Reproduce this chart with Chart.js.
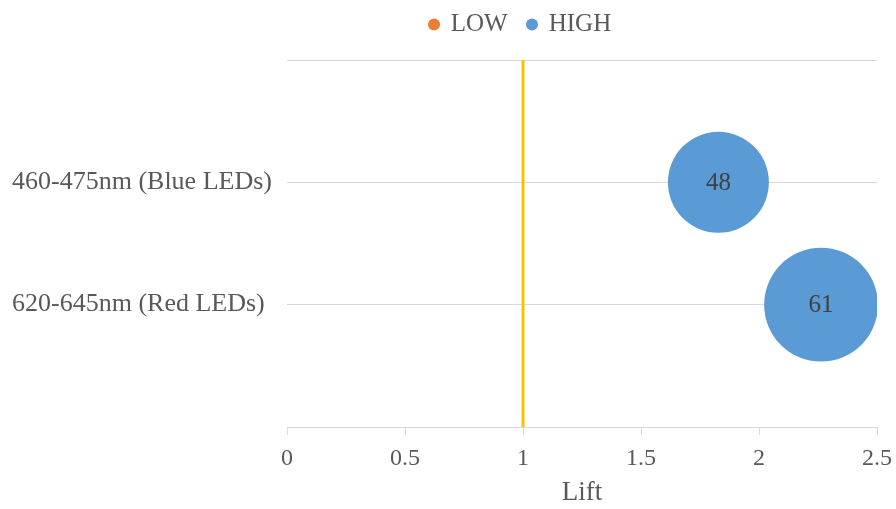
<!DOCTYPE html>
<html>
<head>
<meta charset="utf-8">
<script src="https://cdn.jsdelivr.net/npm/chart.js@4/dist/chart.umd.min.js"></script>
<style>
  html, body { margin: 0; padding: 0; background: #ffffff; }
  #wrap { width: 896px; height: 509px; }
</style>
</head>
<body>
<div id="wrap"><canvas id="c" width="896" height="509"></canvas></div>
<script>
// Wavelength bands plotted on the vertical axis (position 2 = top row, 1 = lower row)
const categories = ['620-645nm (Red LEDs)', '460-475nm (Blue LEDs)'];
const categoryPositions = [1, 2];

// HIGH series: lift per band and the bubble size value shown in each bubble
const highLift = [2.263, 1.828];
const highSize = [61, 48];

// LOW series has no visible bubbles
const lowLift = [];
const lowSize = [];

// Reference lift line
const referenceLift = 1;

// X-axis ticks
const xTicks = [0, 0.5, 1, 1.5, 2, 2.5];

const FONT = 'Liberation Serif, Times New Roman, serif';
const GREY = '#595959';

// bubble area proportional to size value
const radiusFor = v => 7.29 * Math.sqrt(v);

const highData = highLift.map((x, i) => ({ x, y: categoryPositions[i], r: radiusFor(highSize[i]), v: highSize[i] }));
const lowData = lowLift.map((x, i) => ({ x, y: categoryPositions[i], r: radiusFor(lowSize[i]), v: lowSize[i] }));

// vertical reference line at lift = 1
const refLine = {
  id: 'refLine',
  beforeDatasetsDraw(chart) {
    const { ctx, chartArea, scales } = chart;
    const px = scales.x.getPixelForValue(referenceLift);
    ctx.save();
    ctx.strokeStyle = '#FFC000';
    ctx.lineWidth = 3;
    ctx.beginPath();
    ctx.moveTo(px, chartArea.top);
    ctx.lineTo(px, chartArea.bottom);
    ctx.stroke();
    ctx.restore();
  }
};

// value labels centred in each bubble
const bubbleLabels = {
  id: 'bubbleLabels',
  afterDatasetsDraw(chart) {
    const { ctx } = chart;
    ctx.save();
    ctx.font = '25px ' + FONT;
    ctx.fillStyle = '#404040';
    ctx.textAlign = 'center';
    ctx.textBaseline = 'middle';
    chart.data.datasets.forEach((ds, di) => {
      const meta = chart.getDatasetMeta(di);
      meta.data.forEach((el, i) => {
        ctx.fillText(String(ds.data[i].v), el.x, el.y + 1);
      });
    });
    ctx.restore();
  }
};

// legend block: fixed height, placed a little higher and to the right
const legendPlacement = {
  id: 'legendPlacement',
  beforeLayout(chart) {
    const lg = chart.legend;
    if (lg && !lg._fixedFit) {
      const fit = lg.fit;
      lg.fit = function () { fit.call(this); this.height = 60; };
      lg._fixedFit = true;
    }
  },
  afterLayout(chart) {
    const lg = chart.legend;
    const dx = 76, dy = -8;
    lg.left += dx; lg.right += dx;
    lg.top += dy; lg.bottom += dy;
  }
};

new Chart(document.getElementById('c'), {
  type: 'bubble',
  data: {
    datasets: [
      { label: 'LOW', data: lowData, backgroundColor: '#ED7D31', borderWidth: 0, clip: 0 },
      { label: 'HIGH', data: highData, backgroundColor: '#5B9BD5', borderColor: '#5B9BD5', borderWidth: 0, clip: 0 }
    ]
  },
  options: {
    responsive: false,
    animation: false,
    layout: { autoPadding: false, padding: { left: 12, right: 19, top: 0, bottom: 0 } },
    plugins: {
      tooltip: { enabled: false },
      legend: {
        position: 'top',
        labels: {
          usePointStyle: true,
          pointStyle: 'circle',
          boxWidth: 8.5,
          boxHeight: 8.5,
          padding: 20,
          color: GREY,
          font: { family: FONT, size: 25 }
        }
      }
    },
    scales: {
      x: {
        type: 'linear',
        min: 0,
        max: 2.5,
        afterBuildTicks: s => { s.ticks = xTicks.map(v => ({ value: v })); },
        afterFit: s => { s.paddingLeft = 0; s.paddingRight = 0; s.height = 82; },
        ticks: { color: GREY, font: { family: FONT, size: 24 }, padding: 9, callback: v => String(v) },
        grid: { drawOnChartArea: false, drawTicks: true, tickLength: 8, color: '#D9D9D9' },
        border: { color: '#D9D9D9', width: 1 },
        title: { display: true, text: 'Lift', color: GREY, font: { family: FONT, size: 27 }, padding: { top: 5, bottom: 0 } }
      },
      y: {
        type: 'linear',
        min: 0,
        max: 3,
        afterBuildTicks: s => { s.ticks = [0, 1, 2, 3].map(v => ({ value: v })); },
        afterFit: s => { s.width = 275; },
        ticks: {
          crossAlign: 'far',
          color: GREY,
          font: { family: FONT, size: 26 },
          callback: v => { const k = categoryPositions.indexOf(v); return k >= 0 ? categories[k] : ''; }
        },
        grid: { drawTicks: false, color: '#D9D9D9' },
        border: { display: false }
      }
    }
  },
  plugins: [refLine, bubbleLabels, legendPlacement]
});
</script>
</body>
</html>
